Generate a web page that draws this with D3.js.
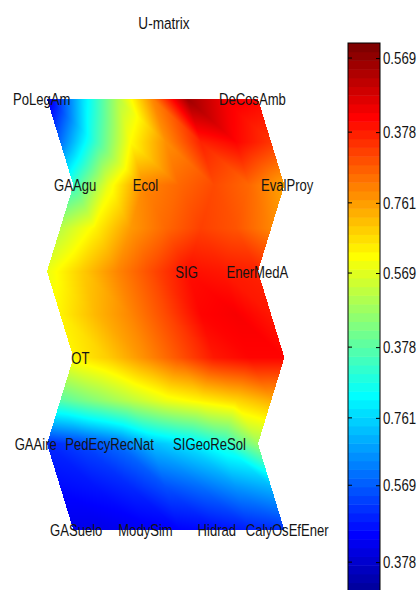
<!DOCTYPE html>
<html>
<head>
<meta charset="utf-8">
<script src="https://cdn.jsdelivr.net/npm/d3@7/dist/d3.min.js"></script>
<style>
  body { margin: 0; background: #fff; }
  svg { display: block; }
</style>
</head>
<body>
<div id="chart"></div>
<script>
// --- Data ---
const chartTitle = "U-matrix";

// U-matrix values, 11 rows x 7 columns (0 = bottom of colormap, 1 = top)
const umatRows = [
  [0.08, 0.33, 0.54, 0.74, 0.97, 0.89, 0.87],
  [0.22, 0.42, 0.62, 0.73, 0.84, 0.87, 0.82],
  [0.42, 0.60, 0.74, 0.77, 0.80, 0.77, 0.71],
  [0.55, 0.63, 0.72, 0.77, 0.81, 0.79, 0.74],
  [0.60, 0.67, 0.74, 0.80, 0.86, 0.85, 0.84],
  [0.63, 0.69, 0.74, 0.80, 0.87, 0.88, 0.85],
  [0.63, 0.67, 0.73, 0.79, 0.85, 0.87, 0.87],
  [0.45, 0.50, 0.55, 0.60, 0.63, 0.66, 0.70],
  [0.15, 0.18, 0.22, 0.30, 0.34, 0.40, 0.52],
  [0.12, 0.13, 0.15, 0.19, 0.22, 0.26, 0.29],
  [0.09, 0.09, 0.10, 0.11, 0.12, 0.14, 0.16]
];

// unit labels: name, U-matrix row, U-matrix column
const labelNames = ["PoLegAm", "DeCosAmb", "GAAgu", "Ecol", "EvalProy", "SIG", "EnerMedA", "OT",
  "GAAire", "PedEcyRecNat", "SIGeoReSol", "GASuelo", "ModySim", "Hidrad", "CalyOsEfEner"];
const labelRows = [0, 0, 2, 2, 2, 4, 4, 6, 8, 8, 8, 10, 10, 10, 10];
const labelCols = [-0.15, 5.84, 0.05, 2.05, 6.08, 3.97, 5.98, 0.2, -0.32, 1.78, 4.62, 0.08, 2.05, 4.08, 6.08];

// colorbar ticks (position along bar, 0..1) and their printed labels
const cbarTickValues = [0.973, 0.840, 0.713, 0.587, 0.454, 0.327, 0.206, 0.068];
const cbarTickLabels = ["0.569", "0.378", "0.761", "0.569", "0.378", "0.761", "0.569", "0.378"];

// --- Layout ---
const width = 419, height = 590;
const nRows = umatRows.length, nCols = umatRows[0].length;

const x = d3.scaleLinear().domain([0, nCols - 1]).range([47, 258]);
const y = d3.scaleLinear().domain([0, nRows - 1]).range([99, 530]);

// hexagonal lattice: every other map row is shifted right
function rowShift(r) {
  if (r % 2 === 1) return 0.375;
  return (r / 2) % 2 === 1 ? 0.75 : 0;
}

// MATLAB jet(64)
const jet = (function () {
  const m = 64, n = 16;
  const u = [];
  for (let k = 1; k <= n; k++) u.push(k / n);
  for (let k = 1; k < n; k++) u.push(1);
  for (let k = n; k >= 1; k--) u.push(k / n);
  const cols = [];
  for (let i = 1; i <= m; i++) {
    const g = i - 8 >= 1 && i - 8 <= u.length ? u[i - 9] : 0;
    const r = i - 24 >= 1 && i - 24 <= u.length ? u[i - 25] : 0;
    const b = i + 8 >= 1 && i + 8 <= u.length ? u[i + 7] : 0;
    cols.push([r * 255, g * 255, b * 255]);
  }
  return cols;
})();
const colorIndex = d3.scaleQuantize().domain([0, 1]).range(d3.range(64));
const jetColor = v => {
  const c = jet[colorIndex(Math.max(0, Math.min(1, v)))];
  return `rgb(${Math.round(c[0])},${Math.round(c[1])},${Math.round(c[2])})`;
};
// smooth version for the interpolated surface
const jetPos = d3.scaleLinear().domain([0, 1]).range([0, 63]).clamp(true);
function jetSmooth(v) {
  const p = jetPos(v), i = Math.min(62, Math.floor(p)), t = p - i;
  const a = jet[i], b = jet[i + 1];
  return [a[0] + (b[0] - a[0]) * t, a[1] + (b[1] - a[1]) * t, a[2] + (b[2] - a[2]) * t];
}

const svg = d3.select("#chart").append("svg")
  .attr("width", width)
  .attr("height", height);

// --- U-matrix surface, interpolated shading on triangles ---
const verts = umatRows.map((row, r) => row.map((v, c) => ({
  px: x(c + rowShift(r)), py: y(r), v: v
})));
const tris = [];
for (let r = 0; r < nRows - 1; r++) {
  for (let c = 0; c < nCols - 1; c++) {
    const a = verts[r][c], b = verts[r][c + 1], d = verts[r + 1][c], e = verts[r + 1][c + 1];
    tris.push([a, b, e]);
    tris.push([a, e, d]);
  }
}

const canvas = document.createElement("canvas");
canvas.width = width;
canvas.height = height;
const ctx = canvas.getContext("2d");
const img = ctx.createImageData(width, height);
tris.forEach(([p0, p1, p2]) => {
  const x0 = Math.floor(Math.min(p0.px, p1.px, p2.px)), x1 = Math.ceil(Math.max(p0.px, p1.px, p2.px));
  const y0 = Math.floor(Math.min(p0.py, p1.py, p2.py)), y1 = Math.ceil(Math.max(p0.py, p1.py, p2.py));
  const det = (p1.py - p2.py) * (p0.px - p2.px) + (p2.px - p1.px) * (p0.py - p2.py);
  for (let py = y0; py <= y1; py++) {
    for (let px = x0; px <= x1; px++) {
      const sx = px + 0.5, sy = py + 0.5;
      const l0 = ((p1.py - p2.py) * (sx - p2.px) + (p2.px - p1.px) * (sy - p2.py)) / det;
      const l1 = ((p2.py - p0.py) * (sx - p2.px) + (p0.px - p2.px) * (sy - p2.py)) / det;
      const l2 = 1 - l0 - l1;
      if (l0 < -1e-6 || l1 < -1e-6 || l2 < -1e-6) continue;
      const v = l0 * p0.v + l1 * p1.v + l2 * p2.v;
      const c = jetSmooth(v);
      const i = (py * width + px) * 4;
      img.data[i] = c[0];
      img.data[i + 1] = c[1];
      img.data[i + 2] = c[2];
      img.data[i + 3] = 255;
    }
  }
});
ctx.putImageData(img, 0, 0);

svg.append("image")
  .attr("x", 0).attr("y", 0)
  .attr("width", width).attr("height", height)
  .attr("href", canvas.toDataURL());

// --- Labels ---
const textFont = "'Liberation Sans', Arial, sans-serif";

svg.append("g")
  .selectAll("text")
  .data(labelNames)
  .join("text")
  .attr("transform", (d, i) => `translate(${x(labelCols[i] + rowShift(labelRows[i]))},${y(labelRows[i])}) scale(0.77,1)`)
  .attr("text-anchor", "middle")
  .attr("dominant-baseline", "central")
  .attr("font-family", textFont)
  .attr("font-size", 17)
  .attr("fill", "#141414")
  .text(d => d);

svg.append("text")
  .attr("transform", "translate(164,23) scale(0.8,1)")
  .attr("text-anchor", "middle")
  .attr("dominant-baseline", "central")
  .attr("font-family", textFont)
  .attr("font-size", 17)
  .attr("fill", "#141414")
  .text(chartTitle);

// --- Colorbar ---
const barX = 348, barW = 32;
const cb = d3.scaleLinear().domain([0, 1]).range([600, 43]);
const bands = d3.range(64);

svg.append("g")
  .selectAll("rect")
  .data(bands)
  .join("rect")
  .attr("x", barX)
  .attr("y", d => cb((d + 1) / 64))
  .attr("width", barW)
  .attr("height", d => cb(d / 64) - cb((d + 1) / 64) + 0.5)
  .attr("fill", d => jetColor((d + 0.5) / 64));

svg.append("rect")
  .attr("x", barX).attr("y", cb(1))
  .attr("width", barW).attr("height", cb(0) - cb(1))
  .attr("fill", "none")
  .attr("stroke", "#000")
  .attr("stroke-width", 1);

const axisR = d3.axisRight(cb)
  .tickValues(cbarTickValues)
  .tickFormat((d, i) => cbarTickLabels[i])
  .tickSize(-4)
  .tickPadding(6);

const gAxis = svg.append("g")
  .attr("transform", `translate(${barX + barW},0)`)
  .call(axisR);
gAxis.select(".domain").remove();
gAxis.selectAll("line").attr("stroke", "#000");
gAxis.selectAll("text")
  .attr("font-family", textFont)
  .attr("font-size", 17)
  .attr("fill", "#141414")
  .attr("transform", "scale(0.78,1)")
  .attr("x", 3 / 0.78);

// left side ticks
svg.append("g")
  .selectAll("line")
  .data(cbarTickValues)
  .join("line")
  .attr("x1", barX).attr("x2", barX + 4)
  .attr("y1", d => cb(d)).attr("y2", d => cb(d))
  .attr("stroke", "#000");
</script>
</body>
</html>
